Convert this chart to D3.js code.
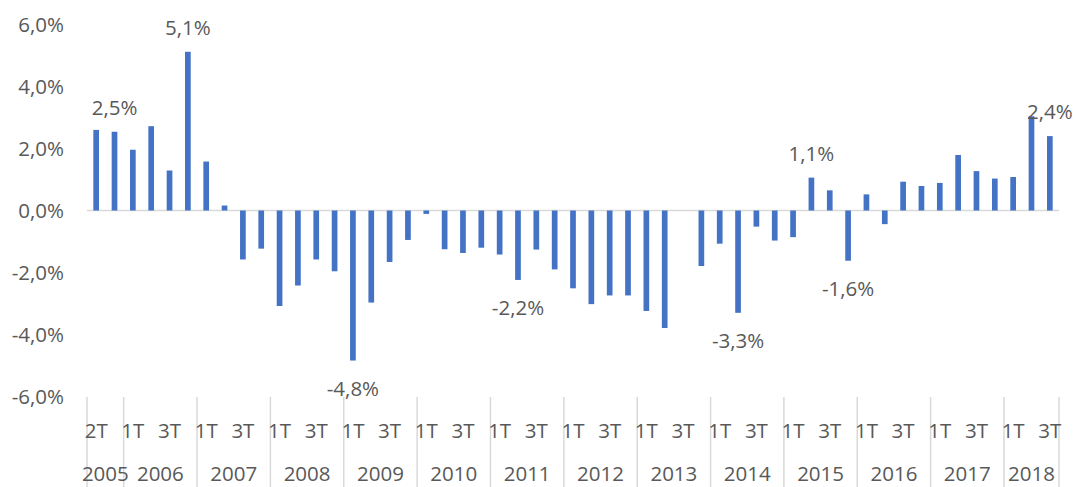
<!DOCTYPE html>
<html><head><meta charset="utf-8">
<script src="https://cdn.jsdelivr.net/npm/d3@7"></script>
<style>
body{margin:0;background:#fff}
text{font-family:"Open Sans",sans-serif;fill:#595959}
</style>
</head><body>
<svg id="c" width="1076" height="487"></svg>
<script>
const years = ["2005","2006","2007","2008","2009","2010","2011","2012","2013","2014","2015","2016","2017","2018"];
const quartersPerYear = [
  ["2T","3T"],
  ["1T","2T","3T","4T"],["1T","2T","3T","4T"],["1T","2T","3T","4T"],["1T","2T","3T","4T"],
  ["1T","2T","3T","4T"],["1T","2T","3T","4T"],["1T","2T","3T","4T"],["1T","2T","3T","4T"],
  ["1T","2T","3T","4T"],["1T","2T","3T","4T"],["1T","2T","3T","4T"],["1T","2T","3T","4T"],
  ["1T","2T","3T"]
];
const values = [
  2.60, 2.54,
  1.96, 2.72, 1.29, 5.12,
  1.58, 0.16, -1.58, -1.23,
  -3.08, -2.42, -1.58, -1.96,
  -4.84, -2.97, -1.66, -0.95,
  -0.11, -1.25, -1.37, -1.20,
  -1.42, -2.24, -1.26, -1.90,
  -2.51, -3.02, -2.74, -2.74,
  -3.24, -3.79, 0.00, -1.79,
  -1.07, -3.30, -0.52, -0.97,
  -0.86, 1.06, 0.65, -1.62,
  0.52, -0.44, 0.93, 0.79,
  0.89, 1.79, 1.27, 1.03,
  1.08, 3.04, 2.40
];
const yTicks = [-6, -4, -2, 0, 2, 4, 6];
const labeledIdx = [1, 5, 14, 23, 35, 39, 41, 52];

const categories = [];
quartersPerYear.forEach((qs, yi) => qs.forEach(q => categories.push({year: years[yi], q})));

const svg = d3.select("#c");
const mLeft = 87, mRight = 1059, mTop = 24.5, mBottom = 396.5;
const FS = "20.5px";

const x = d3.scaleBand().domain(d3.range(values.length)).range([mLeft, mRight])
  .paddingInner(0.69).paddingOuter(0.345);
const y = d3.scaleLinear().domain([-6, 6]).range([mBottom, mTop]);
const step = x.step();
const comma = v => d3.format(".1f")(v).replace(".", ",").replace("\u2212", "-");

// y axis labels
const yAxis = svg.append("g").attr("transform", `translate(${mLeft},0)`)
  .call(d3.axisLeft(y).tickValues(yTicks).tickSize(0).tickPadding(23)
    .tickFormat(d => comma(d) + "%"));
yAxis.select(".domain").remove();
yAxis.selectAll("text").style("font-size", FS).attr("fill", "#595959")
  .style("font-family", '"Open Sans",sans-serif');

// zero line
svg.append("line").attr("x1", mLeft).attr("x2", mRight)
  .attr("y1", y(0)).attr("y2", y(0)).attr("stroke", "#d9d9d9").attr("stroke-width", 1.5);

// bars
svg.append("g").selectAll("rect").data(values).join("rect")
  .attr("x", (d, i) => x(i)).attr("width", x.bandwidth())
  .attr("y", d => y(Math.max(0, d))).attr("height", d => Math.abs(y(d) - y(0)))
  .attr("fill", "#4472C4");

// data labels
svg.append("g").selectAll("text").data(labeledIdx).join("text")
  .attr("x", i => x(i) + x.bandwidth() / 2)
  .attr("y", i => values[i] >= 0 ? y(values[i]) - 25 : y(values[i]) + 27)
  .attr("text-anchor", "middle").attr("dominant-baseline", "central")
  .style("font-size", FS)
  .text(i => comma(values[i]) + "%");

// category axis: separators
const groupStarts = [];
let idx = 0;
quartersPerYear.forEach(qs => { groupStarts.push(idx); idx += qs.length; });
const boundaries = groupStarts.concat([values.length]);
svg.append("g").selectAll("line").data(boundaries).join("line")
  .attr("x1", i => mLeft + i * step).attr("x2", i => mLeft + i * step)
  .attr("y1", 397).attr("y2", 487)
  .attr("stroke", "#d9d9d9").attr("stroke-width", 1.5);

// quarter labels (every other)
svg.append("g").selectAll("text").data(categories.map((c, i) => ({c, i})).filter(d => d.i % 2 === 0))
  .join("text")
  .attr("x", d => x(d.i) + x.bandwidth() / 2).attr("y", 430)
  .attr("text-anchor", "middle").attr("dominant-baseline", "central")
  .style("font-size", FS)
  .text(d => d.c.q);

// year labels
svg.append("g").selectAll("text").data(years).join("text")
  .attr("x", (d, i) => mLeft + (boundaries[i] + boundaries[i + 1]) / 2 * step)
  .attr("y", 472.5)
  .attr("text-anchor", "middle").attr("dominant-baseline", "central")
  .style("font-size", FS)
  .text(d => d);
</script>
</body></html>
